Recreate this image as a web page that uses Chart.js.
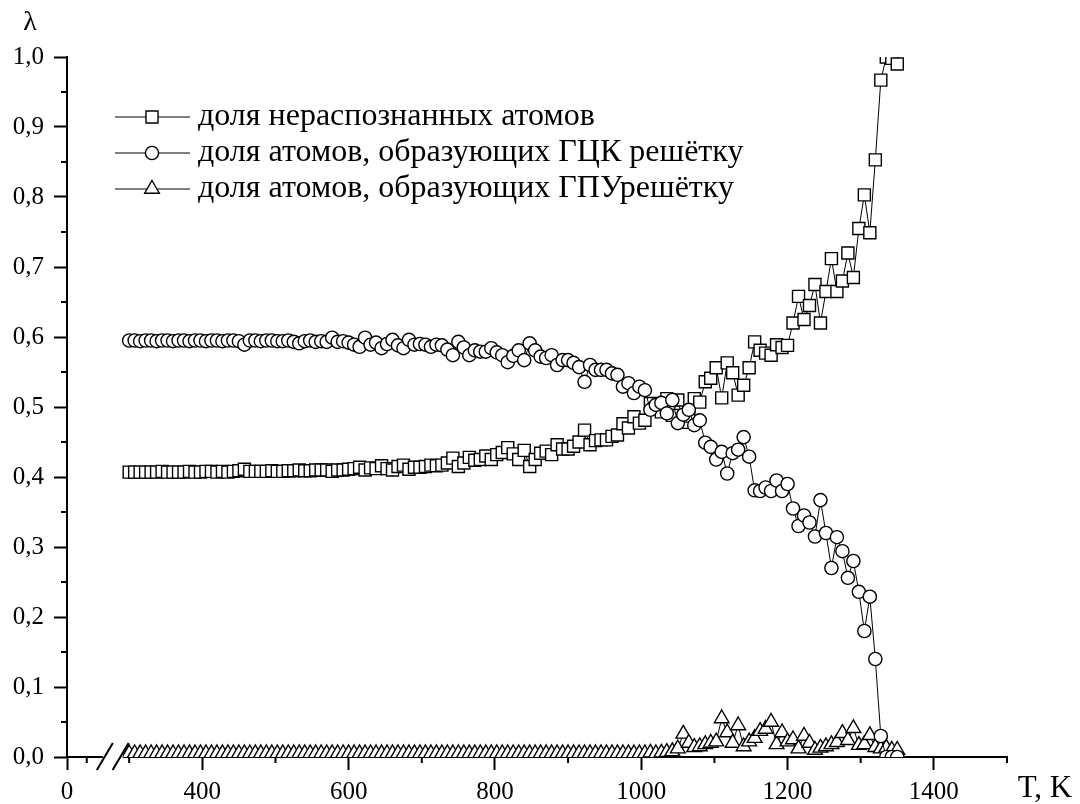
<!DOCTYPE html>
<html>
<head>
<meta charset="utf-8">
<script src="https://cdn.jsdelivr.net/npm/chart.js@4/dist/chart.umd.min.js"></script>
<style>
  html, body { margin: 0; padding: 0; background: #fff; }
</style>
</head>
<body>
<canvas id="chart" width="1080" height="804"></canvas>
<script>
// temperature, K
const temps = [
    300, 307.5, 315, 322.5, 330, 337.5, 345, 352.5, 360, 367.5,
    375, 382.5, 390, 397.5, 405, 412.5, 420, 427.5, 435, 442.5,
    450, 457.5, 465, 472.5, 480, 487.5, 495, 502.5, 510, 517.5,
    525, 532.5, 540, 547.5, 555, 562.5, 570, 577.5, 585, 592.5,
    600, 607.5, 615, 622.5, 630, 637.5, 645, 652.5, 660, 667.5,
    675, 682.5, 690, 697.5, 705, 712.5, 720, 727.5, 735, 742.5,
    750, 757.5, 765, 772.5, 780, 787.5, 795, 802.5, 810, 817.5,
    825, 832.5, 840, 847.5, 855, 862.5, 870, 877.5, 885, 892.5,
    900, 907.5, 915, 922.5, 930, 937.5, 945, 952.5, 960, 967.5,
    975, 982.5, 990, 997.5, 1005, 1012.5, 1020, 1027.5, 1035, 1042.5,
    1050, 1057.5, 1065, 1072.5, 1080, 1087.5, 1095, 1102.5, 1110, 1117.5,
    1125, 1132.5, 1140, 1147.5, 1155, 1162.5, 1170, 1177.5, 1185, 1192.5,
    1200, 1207.5, 1215, 1222.5, 1230, 1237.5, 1245, 1252.5, 1260, 1267.5,
    1275, 1282.5, 1290, 1297.5, 1305, 1312.5, 1320, 1327.5, 1335, 1342.5,
    1350
];

// доля нераспознанных атомов
const unrecognised = [
    .407, .407, .407, .407, .407, .407, .408, .407, .407, .407,
    .407, .408, .407, .407, .408, .408, .407, .408, .407, .408,
    .409, .411, .408, .408, .408, .408, .409, .408, .408, .409,
    .409, .410, .409, .409, .410, .410, .410, .408, .410, .410,
    .411, .412, .414, .410, .413, .412, .416, .412, .410, .415,
    .417, .411, .414, .414, .415, .417, .416, .417, .420, .427,
    .415, .420, .428, .424, .425, .430, .425, .432, .435, .442,
    .433, .425, .438, .415, .425, .434, .437, .432, .446, .440,
    .440, .444, .450, .467, .446, .452, .453, .453, .458, .460,
    .476, .470, .486, .477, .481, .505, .498, .493, .512, .488,
    .510, .478, .487, .512, .507, .536, .541, .556, .513, .563,
    .549, .517, .531, .556, .593, .581, .577, .574, .589, .585,
    .588, .620, .658, .625, .645, .675, .620, .665, .712, .665,
    .680, .720, .685, .755, .803, .749, .853, .967, 1.0, .998,
    .990
];

// доля атомов, образующих ГЦК решётку
const fcc = [
    .595, .595, .594, .595, .595, .594, .595, .595, .594, .595,
    .595, .594, .595, .595, .594, .595, .595, .594, .595, .595,
    .594, .589, .595, .595, .594, .595, .595, .594, .594, .595,
    .593, .591, .594, .595, .593, .594, .593, .599, .593, .594,
    .592, .589, .586, .599, .589, .592, .584, .590, .596, .588,
    .584, .596, .589, .590, .589, .586, .589, .588, .582, .574,
    .593, .585, .574, .581, .579, .579, .584, .578, .574, .564,
    .573, .581, .567, .591, .581, .572, .570, .574, .560, .567,
    .567, .563, .557, .536, .560, .553, .553, .553, .548, .546,
    .529, .534, .520, .529, .524, .496, .503, .506, .491, .510,
    .477, .489, .496, .474, .481, .449, .443, .425, .436, .405,
    .434, .439, .457, .429, .381, .380, .385, .380, .395, .380,
    .390, .355, .330, .345, .335, .315, .367, .320, .270, .314,
    .294, .256, .280, .236, .180, .229, .140, .030, 0, 0,
    0
];

// доля атомов, образующих ГПУ решётку
const hcp = [
    .005, .005, .005, .005, .005, .005, .005, .005, .005, .005,
    .005, .005, .005, .005, .005, .005, .005, .005, .005, .005,
    .005, .005, .005, .005, .005, .005, .005, .005, .005, .005,
    .005, .005, .005, .005, .005, .005, .005, .005, .005, .005,
    .005, .005, .005, .005, .005, .005, .005, .005, .005, .005,
    .005, .005, .005, .005, .005, .005, .005, .005, .005, .005,
    .005, .005, .005, .005, .005, .005, .005, .005, .005, .005,
    .005, .005, .005, .005, .005, .005, .005, .005, .005, .005,
    .005, .005, .005, .005, .005, .005, .005, .005, .005, .005,
    .005, .005, .005, .005, .005, .006, .005, .006, .007, .008,
    .012, .033, .020, .014, .015, .018, .020, .022, .055, .035,
    .020, .045, .015, .022, .027, .037, .040, .050, .018, .035,
    .022, .025, .012, .030, .020, .010, .013, .015, .018, .021,
    .034, .024, .041, .017, .018, .031, .014, .012, .013, .010,
    .010
];

const seriesNames = [
    'доля нераспознанных атомов',
    'доля атомов, образующих ГЦК решётку',
    'доля атомов, образующих ГПУрешётку'
];

// axis: the left stub (labelled 0) is joined to the 300..1500 range by a break
const xStart = 215;
const xStubMinor = 242;
const xBreak = [264, 291];
const xMajorTicks = [400, 600, 800, 1000, 1200, 1400];
const xMinorTicks = [300, 500, 700, 900, 1100, 1300, 1500];
const yMajorTicks = [0, 0.1, 0.2, 0.3, 0.4, 0.5, 0.6, 0.7, 0.8, 0.9, 1.0];
const yMinorTicks = [0.05, 0.15, 0.25, 0.35, 0.45, 0.55, 0.65, 0.75, 0.85, 0.95];

const serif = "'Liberation Serif', 'Times New Roman', serif";

function series(label, ys, style, radius, order) {
    return {
        label: label,
        data: temps.map((t, i) => ({ x: t, y: ys[i] })),
        showLine: true,
        borderColor: '#000',
        borderWidth: 1,
        pointStyle: style,
        pointRadius: radius,
        pointBorderWidth: 1.4,
        pointBorderColor: '#000',
        pointBackgroundColor: '#fff',
        order: order
    };
}

// minor ticks, axis break, axis titles and the legend
const extras = {
    id: 'extras',
    afterDraw(chart) {
        const ctx = chart.ctx;
        const xs = chart.scales.x;
        const ys = chart.scales.y;
        const bottom = chart.chartArea.bottom;
        const left = chart.chartArea.left;
        ctx.save();
        ctx.strokeStyle = '#000';
        ctx.lineWidth = 2;
        ctx.beginPath();
        [xStubMinor, ...xMinorTicks].forEach(v => {
            const px = xs.getPixelForValue(v);
            ctx.moveTo(px, bottom);
            ctx.lineTo(px, bottom + 6);
        });
        yMinorTicks.forEach(v => {
            const py = ys.getPixelForValue(v);
            ctx.moveTo(left - 6, py);
            ctx.lineTo(left, py);
        });
        ctx.stroke();

        // axis break
        const b1 = xs.getPixelForValue(xBreak[0]);
        const b2 = xs.getPixelForValue(xBreak[1]);
        ctx.fillStyle = '#fff';
        ctx.fillRect(b1, bottom - 3, b2 - b1, 6);
        ctx.beginPath();
        [b1 + 2, b2 - 2].forEach(cx => {
            ctx.moveTo(cx - 8, bottom + 13);
            ctx.lineTo(cx + 8, bottom - 14);
        });
        ctx.stroke();

        // axis titles
        ctx.fillStyle = '#000';
        ctx.textAlign = 'center';
        ctx.textBaseline = 'middle';
        ctx.font = '28px ' + serif;
        ctx.fillText('λ', 30, 23);
        ctx.font = '31px ' + serif;
        ctx.fillText('T, K', 1045, 789);

        // legend: line with the dataset's own marker, then the name
        ctx.textAlign = 'left';
        ctx.font = '32px ' + serif;
        chart.data.datasets.forEach((ds, i) => {
            const y = 117 + i * 36;
            ctx.lineWidth = 1;
            ctx.strokeStyle = '#000';
            ctx.beginPath();
            ctx.moveTo(115, y);
            ctx.lineTo(190, y);
            ctx.stroke();
            ctx.fillStyle = '#fff';
            ctx.lineWidth = ds.pointBorderWidth;
            Chart.helpers.drawPoint(ctx, {
                pointStyle: ds.pointStyle,
                radius: ds.pointRadius,
                borderWidth: ds.pointBorderWidth,
                rotation: 0
            }, 152, y);
            ctx.fillStyle = '#000';
            ctx.fillText(ds.label, 198, y);
        });
        ctx.restore();
    }
};

new Chart(document.getElementById('chart'), {
    type: 'scatter',
    data: {
        datasets: [
            series(seriesNames[0], unrecognised, 'rect', 8.5, 2),
            series(seriesNames[1], fcc, 'circle', 6.6, 1),
            series(seriesNames[2], hcp, 'triangle', 8.5, 3)
        ]
    },
    options: {
        responsive: false,
        animation: false,
        devicePixelRatio: 1,
        layout: { padding: { top: 57, right: 73, left: 0, bottom: 0 } },
        plugins: {
            legend: { display: false },
            tooltip: { enabled: false }
        },
        scales: {
            x: {
                type: 'linear',
                min: xStart,
                max: 1500,
                afterBuildTicks: s => { s.ticks = [xStart, ...xMajorTicks].map(v => ({ value: v })); },
                afterFit: s => { s.height = 47; },
                grid: { drawOnChartArea: false, tickLength: 13, tickWidth: 2, color: '#000' },
                border: { color: '#000', width: 2 },
                ticks: {
                    color: '#000',
                    font: { family: serif, size: 25 },
                    padding: 7,
                    maxRotation: 0,
                    autoSkip: false,
                    callback: v => (v === xStart ? '0' : String(v))
                }
            },
            y: {
                min: 0,
                max: 1,
                afterBuildTicks: s => { s.ticks = yMajorTicks.map(v => ({ value: v })); },
                afterFit: s => { s.width = 67; },
                grid: { drawOnChartArea: false, tickLength: 13, tickWidth: 2, color: '#000' },
                border: { color: '#000', width: 2 },
                ticks: {
                    color: '#000',
                    font: { family: serif, size: 25 },
                    padding: 10,
                    callback: v => v.toFixed(1).replace('.', ',')
                }
            }
        }
    },
    plugins: [extras]
});
</script>
</body>
</html>
